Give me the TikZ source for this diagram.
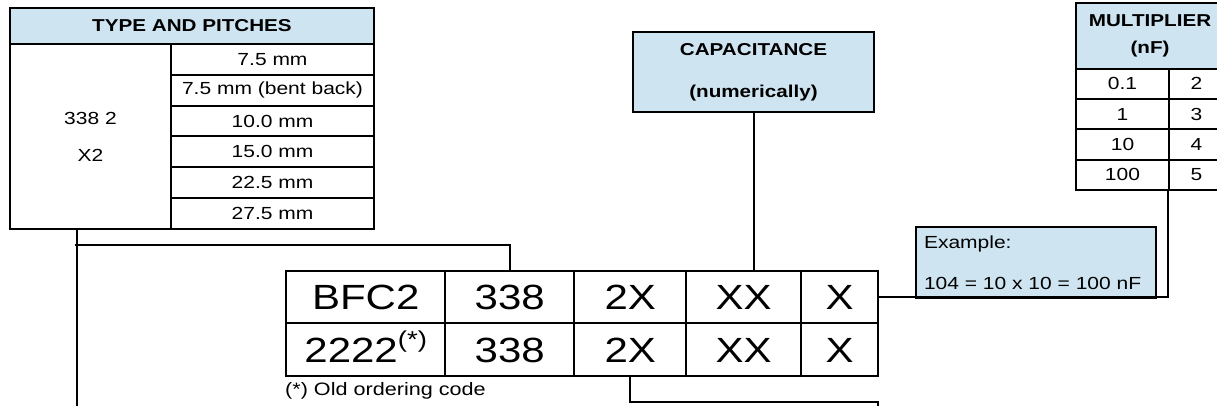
\documentclass[tikz,border=0pt]{standalone}
\usepackage{fontspec}
\setmainfont{Liberation Sans}[FakeStretch=1.2]
\definecolor{hdrblue}{RGB}{206,228,241}
\tikzset{
  cell/.style={draw=black, line width=2pt, anchor=north west, inner sep=0pt, align=center,
    font=\fontsize{17.5}{20}\selectfont},
  hdr/.style={cell, fill=hdrblue, font=\fontsize{17.2}{20}\selectfont\bfseries},
  big/.style={draw=black, line width=2.4pt, anchor=north west, inner sep=0pt,
    text height=25pt, text depth=0pt, font=\fontsize{35}{40}\selectfont},
  conn/.style={draw=black, line width=2pt}
}
\begin{document}
\begin{tikzpicture}[x=1pt,y=-1pt]
\useasboundingbox (0,0) rectangle (1217,406);
\clip (0,0) rectangle (1217,406);
% TYPE AND PITCHES table
\node[hdr, minimum width=364pt, minimum height=36pt] (tphead) at (9,7) {TYPE AND PITCHES};
\node[cell, minimum width=161pt, minimum height=185pt, font=\fontsize{17.5}{37}\selectfont] (tpleft) at (9,43) {338 2\\X2};
\node[cell, minimum width=203pt, minimum height=30.83pt] (tpr1) at (170,43) {7.5 mm};
\node[cell, minimum width=203pt, minimum height=30.83pt] (tpr2) at (170,73.83) {7.5 mm (bent back)};
\node[cell, minimum width=203pt, minimum height=30.83pt] (tpr3) at (170,104.67) {10.0 mm};
\node[cell, minimum width=203pt, minimum height=30.83pt] (tpr4) at (170,135.5) {15.0 mm};
\node[cell, minimum width=203pt, minimum height=30.83pt] (tpr5) at (170,166.33) {22.5 mm};
\node[cell, minimum width=203pt, minimum height=30.83pt] (tpr6) at (170,197.17) {27.5 mm};
% CAPACITANCE box
\node[hdr, minimum width=241pt, minimum height=80pt, font=\fontsize{17.2}{42}\selectfont\bfseries] (cap) at (632,31) {CAPACITANCE\\(numerically)};
% MULTIPLIER table
\node[hdr, minimum width=148pt, minimum height=65.7pt, font=\fontsize{17.2}{27}\selectfont\bfseries] (mhead) at (1075,2) {MULTIPLIER\\(nF)};
\node[cell, minimum width=93pt, minimum height=30.3pt] (ma1) at (1075,67.7) {0.1};
\node[cell, minimum width=55pt, minimum height=30.3pt] (mb1) at (1168,67.7) {2};
\node[cell, minimum width=93pt, minimum height=30.3pt] (ma2) at (1075,98) {1};
\node[cell, minimum width=55pt, minimum height=30.3pt] (mb2) at (1168,98) {3};
\node[cell, minimum width=93pt, minimum height=30.3pt] (ma3) at (1075,128.3) {10};
\node[cell, minimum width=55pt, minimum height=30.3pt] (mb3) at (1168,128.3) {4};
\node[cell, minimum width=93pt, minimum height=30.3pt] (ma4) at (1075,158.6) {100};
\node[cell, minimum width=55pt, minimum height=30.3pt] (mb4) at (1168,158.6) {5};
% Example box
\node[cell, fill=hdrblue, minimum width=240pt, minimum height=71pt, text width=224pt,
  align=left, inner xsep=8pt, font=\fontsize{17.5}{41}\selectfont] (ex) at (915,226)
  {Example:\\104 = 10 x 10 = 100 nF};
% Main code table
\node[big, minimum width=159pt, minimum height=52pt] (a1) at (285,270) {BFC2};
\node[big, minimum width=129pt, minimum height=52pt] (a2) at (444,270) {338};
\node[big, minimum width=112pt, minimum height=52pt] (a3) at (573,270) {2X};
\node[big, minimum width=115pt, minimum height=52pt] (a4) at (685,270) {XX};
\node[big, minimum width=77pt, minimum height=52pt] (a5) at (800,270) {X};
\node[big, minimum width=159pt, minimum height=53pt] (c1) at (285,322) {2222\smash{\raisebox{15pt}{\fontsize{23}{23}\selectfont(*)}}};
\node[big, minimum width=129pt, minimum height=53pt] (c2) at (444,322) {338};
\node[big, minimum width=112pt, minimum height=53pt] (c3) at (573,322) {2X};
\node[big, minimum width=115pt, minimum height=53pt] (c4) at (685,322) {XX};
\node[big, minimum width=77pt, minimum height=53pt] (c5) at (800,322) {X};
\node[anchor=west, inner sep=0pt, font=\fontsize{18}{20}\selectfont] (note) at (285,391) {(*) Old ordering code};
% Connectors
\coordinate (tpfoot) at (77,228);
\coordinate (tpend) at (77,412);
\coordinate (tpjoin) at (75,245);
\coordinate (multfoot) at (1168,188.9);
\coordinate (lowend) at (878,412);
\coordinate (lowcorner) at (878,402);
\draw[conn] (tpfoot) -- (tpend);
\draw[conn] (a2.north) |- (tpjoin);
\draw[conn] (cap.south -| 754,0) -- (a4.north -| 754,0);
\draw[conn] (a5.east) -| (multfoot);
\draw[conn] (c3.south) |- (lowcorner) -- (lowend);
\end{tikzpicture}
\end{document}
